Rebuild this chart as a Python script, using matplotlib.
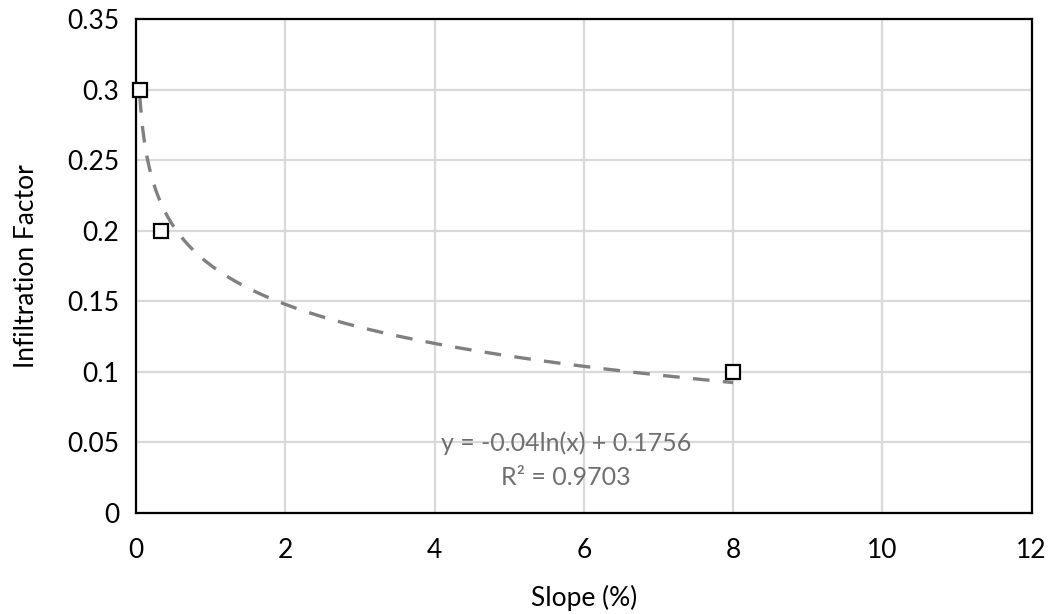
import numpy as np
import matplotlib
matplotlib.use("Agg")
import matplotlib.pyplot as plt

plt.rcParams['font.family'] = ['Lato', 'DejaVu Sans']

# Measured points
slope = [0.05, 0.33, 8.0]
infiltration = [0.30, 0.20, 0.10]

# Logarithmic trendline as given in the chart label
coef_a = -0.04
coef_b = 0.1756
r_squared = 0.9703

x_ticks = [0, 2, 4, 6, 8, 10, 12]
y_ticks = [0, 0.05, 0.1, 0.15, 0.2, 0.25, 0.3, 0.35]
y_tick_labels = ["0", "0.05", "0.1", "0.15", "0.2", "0.25", "0.3", "0.35"]

fig = plt.figure(figsize=(10.57, 6.14), dpi=100)
ax = fig.add_axes([0.1287, 0.1645, 0.8473, 0.8045])

# Trendline
xt = np.linspace(min(slope), max(slope), 400)
ax.plot(xt, coef_a * np.log(xt) + coef_b, color="#808080", lw=2.4,
        ls=(0, (5, 4)), zorder=2)

# Data points
ax.plot(slope, infiltration, ls="none", marker="s", ms=10, mfc="white",
        mec="black", mew=1.6, zorder=3, clip_on=False)

ax.text(5.76, 0.0496, "y = -0.04ln(x) + 0.1756", ha="center", va="center",
        fontsize=18, color="#6f6f6f")
ax.text(5.76, 0.0255, "R² = %.4f" % r_squared, ha="center", va="center",
        fontsize=18, color="#6f6f6f")

ax.set_xlim(0, 12)
ax.set_ylim(0, 0.35)
ax.set_xticks(x_ticks)
ax.set_yticks(y_ticks)
ax.set_yticklabels(y_tick_labels)
ax.tick_params(length=0, labelsize=19, colors="black", pad=12)
ax.tick_params(axis="x", pad=18)

ax.grid(True, color="#d9d9d9", lw=1.6)
ax.set_axisbelow(True)
for s in ax.spines.values():
    s.set_color("black")
    s.set_linewidth(1.6)

ax.set_xlabel("Slope (%)", fontsize=19, labelpad=16)
ax.set_ylabel("Infiltration Factor", fontsize=19, labelpad=20)

fig.savefig("out.png", dpi=100, facecolor="white")
